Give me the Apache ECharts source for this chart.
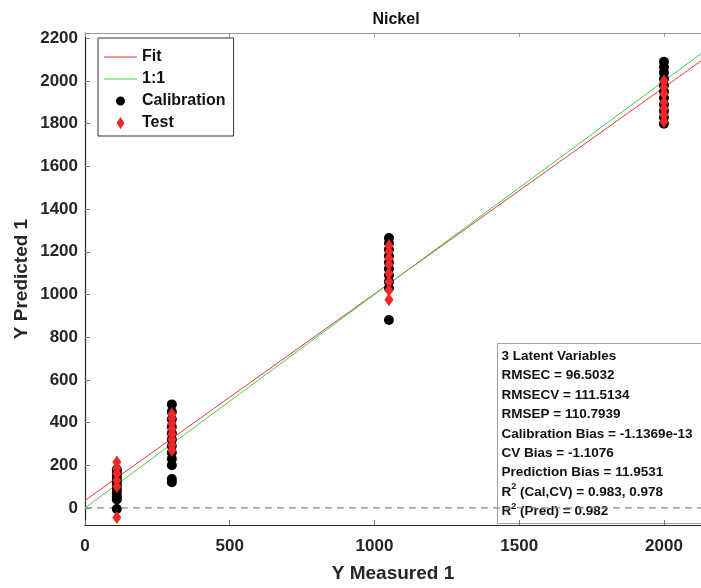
<!DOCTYPE html>
<html>
<head>
<meta charset="utf-8">
<script src="https://cdn.jsdelivr.net/npm/echarts@6/dist/echarts.min.js"></script>
<style>html,body{margin:0;padding:0;background:#fff}#c{width:701px;height:588px}</style>
</head>
<body>
<div id="c"></div>
<script>
// ---- data ----
const levels = [110, 300, 1050, 2000];              // Y Measured 1
const calPred = [                                    // Calibration, Y Predicted 1
  [180, 165, 150, 135, 120, 105, 90, 75, 55, 40, -5],
  [485, 450, 415, 380, 350, 320, 290, 260, 230, 200, 135, 120],
  [1265, 1240, 1210, 1180, 1150, 1120, 1090, 1060, 1030, 880],
  [2090, 2065, 2040, 2010, 1980, 1950, 1920, 1890, 1860, 1830, 1800]
];
const testPred = [                                   // Test, Y Predicted 1
  [215, 185, 160, 130, 100, -45],
  [440, 420, 395, 370, 345, 320, 295, 270],
  [1230, 1200, 1170, 1140, 1100, 1060, 1020, 975],
  [2000, 1970, 1940, 1900, 1870, 1840, 1810]
];
const lineX = [0, 2128];
const fitY = [35, 2094];
const oneToOneY = [0, 2128];
const zeroY = [0, 0];
const xTicks = [0, 500, 1000, 1500, 2000];
const yTicks = [0, 200, 400, 600, 800, 1000, 1200, 1400, 1600, 1800, 2000, 2200];
const statLines = [
  '3 Latent Variables',
  'RMSEC = 96.5032',
  'RMSECV = 111.5134',
  'RMSEP = 110.7939',
  'Calibration Bias = -1.1369e-13',
  'CV Bias = -1.1076',
  'Prediction Bias = 11.9531',
  'R{sup|2} (Cal,CV) = 0.983, 0.978',
  'R{sup|2} (Pred) = 0.982'
];

// ---- build ----
function pairs(xs, ys) { return xs.map((x, i) => [x, ys[i]]); }
function groupPts(groups) {
  const out = [];
  groups.forEach((g, i) => g.forEach(v => out.push([levels[i], v])));
  return out;
}
const FONT = 'Liberation Sans, Arial, sans-serif';
// legend icons: 33x12 box, with tiny corner anchors so the glyph keeps its size
const anchors = 'M0,0 L0.01,0 L0.01,0.01 Z M33,12 L32.99,12 L32.99,11.99 Z ';
const lineIcon = 'path://' + anchors + 'M0,5.5 L33,5.5 L33,6.5 L0,6.5 Z';
const circleIcon = 'path://' + anchors + 'M12,6 A4.5,4.5 0 1,1 21,6 A4.5,4.5 0 1,1 12,6 Z';
const diamondIcon = 'path://' + anchors + 'M16.5,0 L20.5,6 L16.5,12 L12.5,6 Z';

const chart = echarts.init(document.getElementById('c'), null, {renderer: 'canvas'});
const axisLbl = {fontFamily: FONT, fontWeight: 'bold', fontSize: 17, color: '#262626',
                 formatter: v => String(v)};
chart.setOption({
  animation: false,
  backgroundColor: '#fff',
  title: {
    text: 'Nickel', left: 391, top: 7, textAlign: 'center',
    textStyle: {fontFamily: FONT, fontWeight: 'bold', fontSize: 16, color: '#111'}
  },
  grid: {left: 85, top: 33, bottom: 56, right: 0, containLabel: false},
  legend: {
    orient: 'vertical', left: 98, top: 38,
    backgroundColor: '#fff', borderColor: '#333', borderWidth: 1,
    padding: [11, 8, 5, 6], itemGap: 6, itemWidth: 33, itemHeight: 12,
    textStyle: {fontFamily: FONT, fontWeight: 'bold', fontSize: 16, color: '#111'},
    data: [
      {name: 'Fit', icon: lineIcon},
      {name: '1:1', icon: lineIcon},
      {name: 'Calibration', icon: circleIcon},
      {name: 'Test', icon: diamondIcon}
    ]
  },
  xAxis: [{
    type: 'value', min: 0, max: 2128, position: 'bottom',
    name: 'Y Measured 1', nameLocation: 'middle', nameGap: 39,
    nameTextStyle: {fontFamily: FONT, fontWeight: 'bold', fontSize: 19, color: '#262626'},
    axisLine: {show: true, onZero: false, lineStyle: {color: '#262626', width: 1.2}},
    axisTick: {show: true, inside: true, length: 5, customValues: xTicks, lineStyle: {color: '#777'}},
    axisLabel: Object.assign({margin: 13, customValues: xTicks}, axisLbl),
    splitLine: {show: false}
  }, {
    type: 'value', min: 0, max: 2128, position: 'top',
    axisLine: {show: true, onZero: false, lineStyle: {color: '#999', width: 1}},
    axisTick: {show: true, inside: true, length: 4, customValues: xTicks, lineStyle: {color: '#999'}},
    axisLabel: {show: false},
    splitLine: {show: false}
  }],
  yAxis: [{
    type: 'value', min: -80, max: 2225,
    name: 'Y Predicted 1', nameLocation: 'middle', nameGap: 54, nameRotate: 90,
    nameMoveOverlap: false,
    nameTextStyle: {fontFamily: FONT, fontWeight: 'bold', fontSize: 19, color: '#262626'},
    axisLine: {show: true, onZero: false, lineStyle: {color: '#262626', width: 1.2}},
    axisTick: {show: true, inside: true, length: 5, customValues: yTicks, lineStyle: {color: '#777'}},
    axisLabel: Object.assign({margin: 7, customValues: yTicks}, axisLbl),
    splitLine: {show: false}
  }],
  series: [
    {name: 'zero', type: 'line', data: pairs(lineX, zeroY), symbol: 'none', silent: true,
     lineStyle: {color: '#8a8a8a', width: 1.3, type: [7, 5]}, z: 1},
    {name: 'Fit', type: 'line', data: pairs(lineX, fitY), symbol: 'none',
     lineStyle: {color: '#e8393b', width: 1}, itemStyle: {color: '#e8393b'}, z: 2},
    {name: '1:1', type: 'line', data: pairs(lineX, oneToOneY), symbol: 'none',
     lineStyle: {color: '#3ed43e', width: 1}, itemStyle: {color: '#3ed43e'}, z: 2},
    {name: 'Calibration', type: 'scatter', data: groupPts(calPred), symbol: 'circle', symbolSize: 10,
     itemStyle: {color: '#000', opacity: 1}, z: 3},
    {name: 'Test', type: 'scatter', data: groupPts(testPred), symbol: 'diamond', symbolSize: [9, 13],
     itemStyle: {color: '#f0282a', opacity: 1}, z: 4}
  ],
  graphic: [{
    type: 'group', left: 497, top: 343, z: 100,
    children: [
      {type: 'rect', shape: {x: 0, y: 0, width: 230, height: 180},
       style: {fill: '#fff', stroke: '#a0a0a0', lineWidth: 1}},
      {type: 'text', x: 4, y: 3,
       style: {
         text: statLines.join('\n'),
         fontFamily: FONT, fontWeight: 'bold', fontSize: 13.5, lineHeight: 19.4, fill: '#111',
         rich: {sup: {fontSize: 9, fontWeight: 'bold', fontFamily: FONT, lineHeight: 10, verticalAlign: 'top', fill: '#111'}}
       }}
    ]
  }]
});
</script>
</body>
</html>
